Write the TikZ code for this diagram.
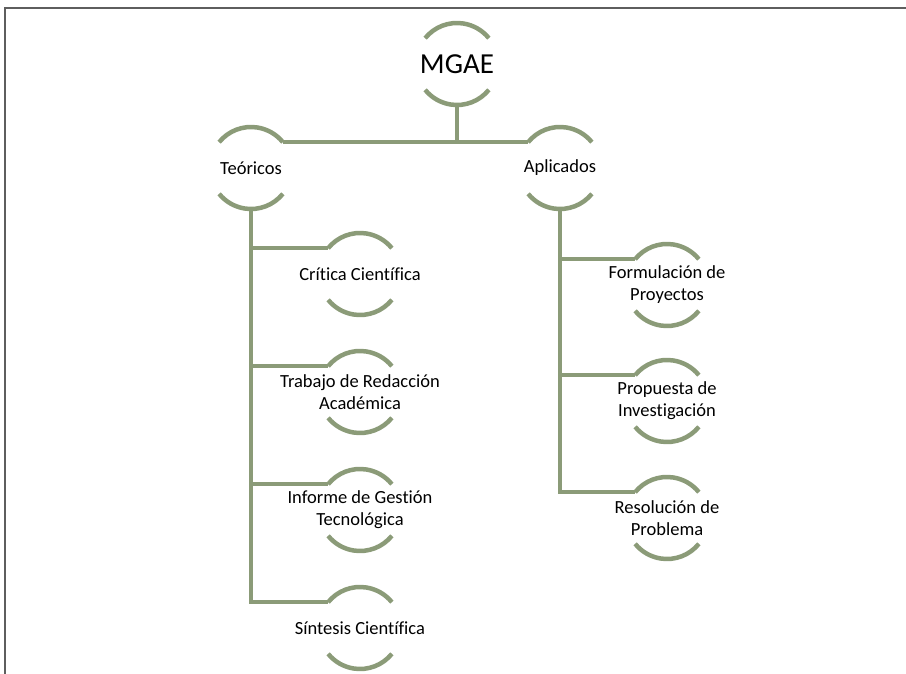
\documentclass[tikz,border=0pt]{standalone}
\usepackage{fontspec}
\setmainfont[Ligatures=NoCommon]{Carlito}
\usepackage{tikz}
\usetikzlibrary{
  positioning,
  calc
}
\definecolor{mgOlive}{HTML}{8B9B78}
\definecolor{mgFrame}{HTML}{5E5E5E}
\tikzset{
  mgnode/.style={
    inner sep=0pt, align=center, text=black,
    font=\fontsize{18.5}{22}\selectfont
  },
  mgroot/.style={mgnode, font=\fontsize{29}{34}\selectfont},
  mgarc/.style={line width=4.5pt, mgOlive, line cap=butt},
  mglink/.style={line width=4.5pt, mgOlive, line cap=butt, line join=miter},
  frameline/.style={line width=1.6pt, mgFrame}
}

\begin{document}
\begin{tikzpicture}[x=1pt, y=-1pt]
  \useasboundingbox (0,0) rectangle (906,674);
  % page frame
  \draw[frameline] (5,674) -- (5,8) -- (906,8);
  % nodes
  \node[mgroot] (mgae) at (457,64) {MGAE};
  \node[mgnode] (teo) at (251,168) {Teóricos};
  \node[mgnode] (apl) at (560,168) {Aplicados};
  \node[mgnode] (cri) at (360,274) {Crítica Científica};
  \node[mgnode] (tra) at (360,392) {Trabajo de Redacción\\Académica};
  \node[mgnode] (inf) at (360,510) {Informe de Gestión\\Tecnológica};
  \node[mgnode] (sin) at (360,628) {Síntesis Científica};
  \node[mgnode] (frm) at (667,285) {Formulación de\\Proyectos};
  \node[mgnode] (pro) at (667,401) {Propuesta de\\Investigación};
  \node[mgnode] (res) at (667,518) {Resolución de\\Problema};
  % arcs round each node
  \foreach \n in {mgae,teo,apl,cri,tra,inf,sin,frm,pro,res} {
    \draw[mgarc] ([shift={(219:41)}]\n.center) arc[start angle=219, end angle=321, radius=41];
    \draw[mgarc] ([shift={(39:41)}]\n.center) arc[start angle=39, end angle=141, radius=41];
    \coordinate (\n-tl) at ([shift={(219:41)}]\n.center);
    \coordinate (\n-tr) at ([shift={(321:41)}]\n.center);
    \coordinate (\n-b) at ([shift={(90:41)}]\n.center);
  }
  % connectors
  \draw[mglink] (teo-tr) -- (apl-tl);
  \draw[mglink] (mgae-b) -- (mgae-b |- teo-tr);
  \draw[mglink] (teo-b) |- (sin-tl);
  \foreach \c in {cri,tra,inf}
    \draw[mglink] (teo-b |- \c-tl) -- (\c-tl);
  \draw[mglink] (apl-b) |- (res-tl);
  \foreach \c in {frm,pro}
    \draw[mglink] (apl-b |- \c-tl) -- (\c-tl);
\end{tikzpicture}
\end{document}
